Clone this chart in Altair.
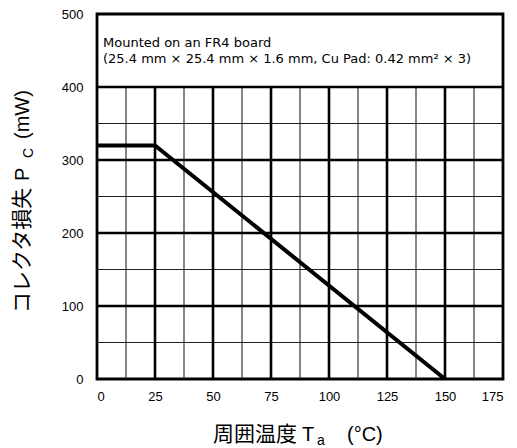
import altair as alt
import pandas as pd

# ---- data ----
ta = [0, 25, 150]          # ambient temperature (°C)
pc = [320, 320, 0]         # collector dissipation (mW)

x_ticks = [0, 25, 50, 75, 100, 125, 150, 175]
y_ticks = [0, 100, 200, 300, 400, 500]
x_major_grid = [25, 50, 75, 100, 125, 150]
x_minor_grid = [12.5, 37.5, 62.5, 87.5, 112.5, 137.5, 162.5]
y_major_grid = [100, 200, 300, 400]
y_minor_grid = [50, 150, 250, 350]
grid_top = 400

note1 = "Mounted on an FR4 board"
note2 = "(25.4 mm × 25.4 mm × 1.6 mm, Cu Pad: 0.42 mm² × 3)"

XS = alt.Scale(domain=[0, 175], nice=False, zero=False)
YS = alt.Scale(domain=[0, 500], nice=False, zero=False)

LATIN = "Liberation Sans"
CJK = "Noto Sans CJK JP"

curve_df = pd.DataFrame({"Ta": ta, "Pc": pc})

xminor_df = pd.DataFrame({"x": x_minor_grid, "y0": 0, "y1": grid_top})
xmajor_df = pd.DataFrame({"x": x_major_grid, "y0": 0, "y1": grid_top})
yminor_df = pd.DataFrame({"y": y_minor_grid, "x0": 0, "x1": 175})
ymajor_df = pd.DataFrame({"y": y_major_grid, "x0": 0, "x1": 175})

base_axes = alt.Chart(curve_df).mark_line(opacity=0).encode(
    x=alt.X("Ta:Q", scale=XS,
            axis=alt.Axis(values=x_ticks, title=None, grid=False, ticks=False, tickSize=0,
                          domain=False, labelFontSize=13, labelFont=LATIN,
                          labelColor="black", labelPadding=11, format="d")),
    y=alt.Y("Pc:Q", scale=YS,
            axis=alt.Axis(values=y_ticks, title=None, grid=False, ticks=False, tickSize=0,
                          domain=False, labelFontSize=13, labelFont=LATIN,
                          labelColor="black", labelPadding=14, format="d")),
)

vminor = alt.Chart(xminor_df).mark_rule(color="#222", strokeWidth=1.1).encode(
    x=alt.X("x:Q", scale=XS), y=alt.Y("y0:Q", scale=YS), y2="y1:Q")
vmajor = alt.Chart(xmajor_df).mark_rule(color="black", strokeWidth=2.6).encode(
    x=alt.X("x:Q", scale=XS), y=alt.Y("y0:Q", scale=YS), y2="y1:Q")
hminor = alt.Chart(yminor_df).mark_rule(color="#222", strokeWidth=1.1).encode(
    y=alt.Y("y:Q", scale=YS), x=alt.X("x0:Q", scale=XS), x2="x1:Q")
hmajor = alt.Chart(ymajor_df).mark_rule(color="black", strokeWidth=2.6).encode(
    y=alt.Y("y:Q", scale=YS), x=alt.X("x0:Q", scale=XS), x2="x1:Q")

curve = alt.Chart(curve_df).mark_line(color="black", strokeWidth=4, strokeJoin="miter",
                                      clip=True).encode(
    x=alt.X("Ta:Q", scale=XS), y=alt.Y("Pc:Q", scale=YS))

one = pd.DataFrame({"k": [0]})


def txt(s, x, y, size, font, align="left", angle=0, baseline="alphabetic"):
    props = dict(text=s, fontSize=size, font=font, align=align, baseline=baseline,
                 color="black")
    if angle:
        props["angle"] = angle
    return alt.Chart(one).mark_text(**props).encode(x=alt.value(x), y=alt.value(y))


# plot origin at page (97, 14)
OX, OY = 97, 14
texts = [
    txt(note1, 103 - OX, 46.5 - OY, 13, "DejaVu Sans"),
    txt(note2, 103 - OX, 63 - OY, 13, "DejaVu Sans"),
    # x title
    txt("周囲温度", 297 - OX, 441 - OY, 21, CJK, align="right"),
    txt("T", 302 - OX, 441 - OY, 20, LATIN),
    txt("a", 317 - OX, 445 - OY, 14, LATIN),
    txt("(°C)", 347 - OX, 441 - OY, 20, LATIN),
    # y title (rotated)
    txt("コレクタ損失", 29 - OX, 313 - OY, 21, CJK, angle=270),
    txt("P", 29 - OX, 181 - OY, 20, LATIN, angle=270),
    txt("C", 33 - OX, 158 - OY, 14, LATIN, angle=270),
    txt("(mW)", 29 - OX, 139 - OY, 20, LATIN, angle=270),
]

chart = alt.layer(base_axes, vminor, hminor, vmajor, hmajor, curve, *texts).properties(
    width=406, height=365,
    autosize=alt.AutoSizeParams(type="none"),
    padding={"left": 89, "top": 6, "right": 6, "bottom": 70},
    background="white",
).configure_view(stroke="black", strokeWidth=2.8)

chart.save("out.html", embed_options={"renderer": "svg", "actions": False})
